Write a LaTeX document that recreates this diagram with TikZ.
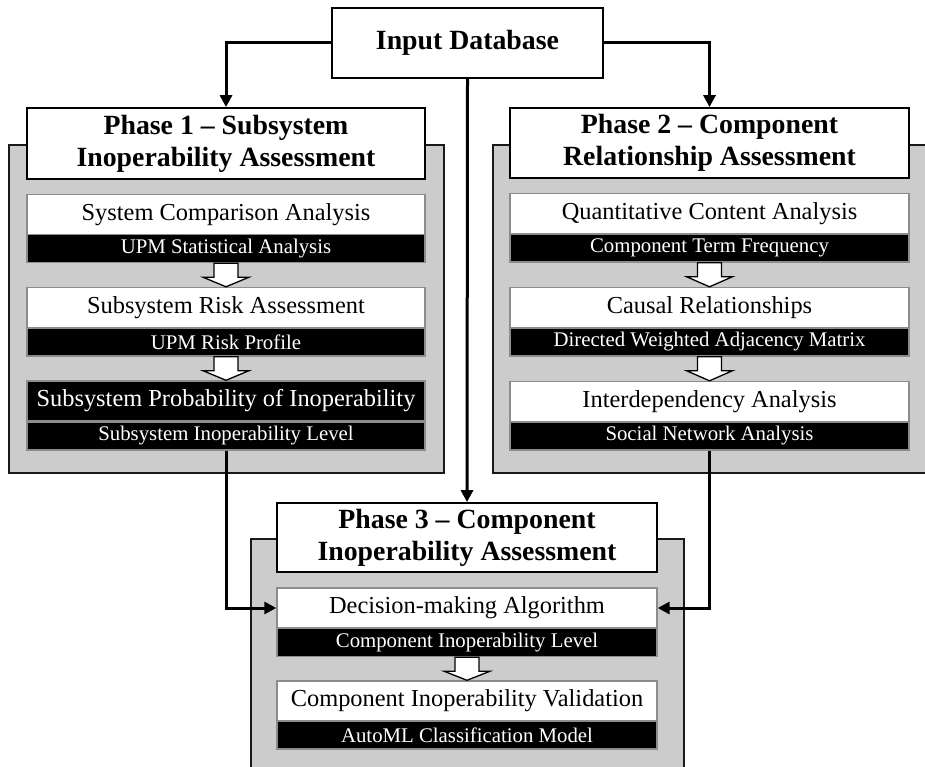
\documentclass[tikz,border=0pt]{standalone}
\usepackage{fontspec}
\setmainfont{Liberation Serif}
\usetikzlibrary{arrows.meta,calc}
\tikzset{
  panel/.style={draw=black!90, fill=black!20, line width=1.8pt},
  titlebox/.style={draw=black, fill=white, line width=1.8pt, inner sep=0pt, align=center,
    font=\fontsize{27.8}{32}\selectfont\bfseries},
  wbox/.style={draw=black!45, fill=white, line width=1.4pt, inner sep=0pt, minimum height=40pt,
    font=\fontsize{24.4}{28}\selectfont},
  bbox/.style={draw=black!45, fill=black, text=white, line width=1.4pt, inner sep=0pt, minimum height=28pt,
    font=\fontsize{20.8}{22}\selectfont},
  bigb/.style={draw=black!45, fill=black, text=white, line width=1.4pt, inner sep=0pt, minimum height=40pt,
    font=\fontsize{24.4}{28}\selectfont},
  conn/.style={line width=3pt, -{Triangle[length=12pt,width=12pt]}},
  hollow/.style={draw=black, fill=white, line width=1.3pt, line join=miter},
}
\newcommand{\hollowarrow}[2]{%
  \filldraw[hollow] ([xshift=-12pt]#1.south) -- ([xshift=-12pt,yshift=-14pt]#1.south) --
    ([xshift=-23pt,yshift=-14pt]#1.south) -- (#2.north) --
    ([xshift=23pt,yshift=-14pt]#1.south) -- ([xshift=12pt,yshift=-14pt]#1.south) --
    ([xshift=12pt]#1.south) -- cycle;}
\begin{document}
\begin{tikzpicture}[x=1pt,y=-1pt]
\useasboundingbox (0,0) rectangle (925,767);
\fill[white] (0,0) rectangle (925,767);

% panels
\node[panel, minimum width=435pt, minimum height=328pt, inner sep=0pt, anchor=north west] (pan1) at (8,144) {};
\node[panel, minimum width=435pt, minimum height=328pt, inner sep=0pt, anchor=north west] (pan2) at (492,144) {};
\node[panel, minimum width=433pt, minimum height=240pt, inner sep=0pt, anchor=north west] (pan3) at (250,538) {};

% input
\node[titlebox, minimum width=271pt, minimum height=70pt] (inp) at (467.5,43) {Input Database};

% titles
\node[titlebox, minimum width=398pt, minimum height=71pt] (t1) at (226,143.5) {Phase 1 -- Subsystem\\Inoperability Assessment};
\node[titlebox, minimum width=399pt, minimum height=70pt] (t2) at (709.5,143) {Phase 2 -- Component\\Relationship Assessment};
\node[titlebox, minimum width=380pt, minimum height=69pt] (t3) at (467,537.5) {Phase 3 -- Component\\Inoperability Assessment};

% phase 1 boxes
\node[wbox, minimum width=398pt] (p1aw) at (226,214.5) {System Comparison Analysis};
\node[bbox, minimum width=398pt] (p1ab) at (226,248.5) {UPM Statistical Analysis};
\node[wbox, minimum width=398pt] (p1bw) at (226,307.5) {Subsystem Risk Assessment};
\node[bbox, minimum width=398pt] (p1bb) at (226,342) {UPM Risk Profile};
\node[bigb, minimum width=398pt] (p1cw) at (226,401) {Subsystem Probability of Inoperability};
\node[bbox, minimum width=398pt] (p1cb) at (226,436) {Subsystem Inoperability Level};

% phase 2 boxes
\node[wbox, minimum width=399pt] (p2aw) at (709.5,213.5) {Quantitative Content Analysis};
\node[bbox, minimum width=399pt] (p2ab) at (709.5,248) {Component Term Frequency};
\node[wbox, minimum width=399pt] (p2bw) at (709.5,307.5) {Causal Relationships};
\node[bbox, minimum width=399pt] (p2bb) at (709.5,342) {Directed Weighted Adjacency Matrix};
\node[wbox, minimum width=399pt] (p2cw) at (709.5,401.5) {Interdependency Analysis};
\node[bbox, minimum width=399pt] (p2cb) at (709.5,436) {Social Network Analysis};

% phase 3 boxes
\node[wbox, minimum width=380pt] (p3aw) at (467,608) {Decision-making Algorithm};
\node[bbox, minimum width=380pt] (p3ab) at (467,642.5) {Component Inoperability Level};
\node[wbox, minimum width=380pt] (p3bw) at (467,701) {Component Inoperability Validation};
\node[bbox, minimum width=380pt] (p3bb) at (467,735) {AutoML Classification Model};

% hollow arrows
\hollowarrow{p1ab}{p1bw}
\hollowarrow{p1bb}{p1cw}
\hollowarrow{p2ab}{p2bw}
\hollowarrow{p2bb}{p2cw}
\hollowarrow{p3ab}{p3bw}

% connectors
\draw[conn] (inp.west) -| (t1.north);
\draw[conn] (inp.east) -| (t2.north);
\draw[conn] (inp.south) -- (t3.north);
\draw[conn] (p1cb.south) |- (p3aw.west);
\draw[conn] (p2cb.south) |- (p3aw.east);
\end{tikzpicture}
\end{document}
